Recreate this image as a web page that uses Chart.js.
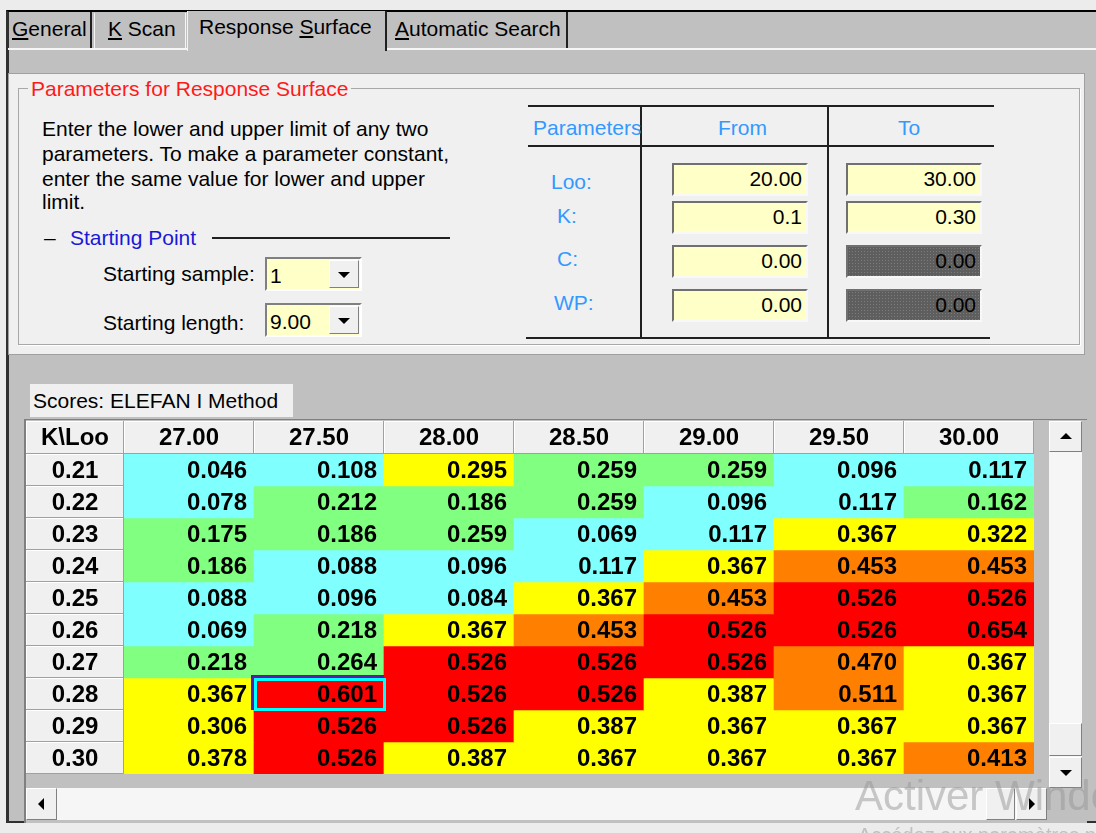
<!DOCTYPE html>
<html>
<head>
<meta charset="utf-8">
<title>Response Surface</title>
<script src="https://cdn.jsdelivr.net/npm/chart.js@4.4.1/dist/chart.umd.min.js"></script>
<style>
    body { margin: 0; width: 1096px; height: 833px; overflow: hidden; position: relative; background: #ececec;
           font-family: 'Liberation Sans', Arial, sans-serif; font-size: 21px; color: #000; }
    .abs { position: absolute; white-space: nowrap; line-height: 21px; }
    #frame { position: absolute; left: 6px; top: 10px; width: 1100px; height: 813px; box-sizing: border-box;
             background: #c0c0c0; border-left: 3px solid #303030; border-top: 2px solid #000; border-bottom: 2px solid #303030; }
    .tab { position: absolute; background: #c0c0c0; box-sizing: border-box; }
    .panel { position: absolute; left: 8px; top: 73px; width: 1077px; height: 282px; background: #f0f0f0;
             box-sizing: border-box; border: 1px solid #a0a0a0; }
    .group { position: absolute; left: 18px; top: 88px; width: 1062px; height: 257px; box-sizing: border-box;
             border: 1px solid #a8a8a8; box-shadow: 1px 1px 0 #fff; }
    .rule { position: absolute; background: #202020; }
    .blue { color: #3399ff; }
    .combo { position: absolute; left: 265px; width: 97px; height: 34px; box-sizing: border-box; background: #ffffc8;
             border: 2px solid; border-color: #808080 #ffffff #ffffff #808080; }
    .combo span { position: absolute; left: 3px; top: 6px; line-height: 21px; }
    .drop { position: absolute; right: 1px; top: 1px; width: 30px; height: 28px; box-sizing: border-box; background: #f0f0f0;
            border: 1px solid; border-color: #ffffff #808080 #808080 #ffffff; }
    .down { position: absolute; width: 0; height: 0; border-left: 6px solid transparent; border-right: 6px solid transparent; border-top: 6px solid #000; }
    .up { position: absolute; width: 0; height: 0; border-left: 6px solid transparent; border-right: 6px solid transparent; border-bottom: 6px solid #000; }
    .left { position: absolute; width: 0; height: 0; border-top: 6px solid transparent; border-bottom: 6px solid transparent; border-right: 6px solid #000; }
    .right { position: absolute; width: 0; height: 0; border-top: 6px solid transparent; border-bottom: 6px solid transparent; border-left: 6px solid #000; }
    .field { position: absolute; width: 136px; height: 33px; box-sizing: border-box; background: #ffffc8; text-align: right;
             padding-right: 4px; line-height: 28px; border: 2px solid; border-color: #707070 #f8f8f8 #f8f8f8 #707070; }
    .field.off { background-color: #5e5e5e; background-image: radial-gradient(#7c7c7c 0.7px, transparent 0.9px); background-size: 3px 3px; }
    .btn { position: absolute; box-sizing: border-box; background: #f0f0f0; border: 1px solid; border-color: #ffffff #808080 #808080 #ffffff; }
    .track { position: absolute; background: #f6f6f6; }
    #scoreChart { position: absolute; left: 24px; top: 420px; }
    .mark { position: absolute; color: rgba(150, 150, 150, 0.5); white-space: nowrap; pointer-events: none; }
</style>
</head>
<body>
<div id="frame"></div>

<!-- tab strip -->
<div class="abs" style="left:8px; top:48px; width:1090px; height:2px; background:#f6f6f6;"></div>
<div class="tab" style="left:9px; top:12px; width:83px; height:36px; border-right:2px solid #202020;"></div>
<div class="tab" style="left:94px; top:13px; width:92px; height:35px; border-left:1px solid #f4f4f4; border-right:1px solid #f4f4f4;"></div>
<div class="tab" style="left:187px; top:11px; width:200px; height:40px; border-left:1px solid #f4f4f4; border-right:2px solid #202020;"></div>
<div class="tab" style="left:389px; top:12px; width:179px; height:36px; border-right:2px solid #202020;"></div>
<div class="abs" style="left:12px; top:18px;"><u>G</u>eneral</div>
<div class="abs" style="left:108px; top:18px;"><u>K</u> Scan</div>
<div class="abs" style="left:199px; top:16px;">Response <u>S</u>urface</div>
<div class="abs" style="left:395px; top:18px;"><u>A</u>utomatic Search</div>

<!-- parameters group -->
<div class="panel"></div>
<div class="group"></div>
<div class="abs" style="left:28px; top:78px; padding:0 3px; background:#f0f0f0; color:#ff1a1a;">Parameters for Response Surface</div>
<div class="abs" style="left:42px; top:118px;">Enter the lower and upper limit of any two</div>
<div class="abs" style="left:42px; top:143px;">parameters. To make a parameter constant,</div>
<div class="abs" style="left:42px; top:168px;">enter the same value for lower and upper</div>
<div class="abs" style="left:42px; top:191px;">limit.</div>

<div class="abs" style="left:44px; top:227px;">–</div>
<div class="abs" style="left:70px; top:227px; color:#1818d8;">Starting Point</div>
<div class="rule" style="left:212px; top:237px; width:238px; height:2px;"></div>

<div class="abs" style="left:103px; top:263px;">Starting sample:</div>
<div class="combo" style="top:257px;"><span>1</span><div class="drop"><div class="down" style="left:8px; top:11px;"></div></div></div>
<div class="abs" style="left:103px; top:312px;">Starting length:</div>
<div class="combo" style="top:303px;"><span>9.00</span><div class="drop"><div class="down" style="left:8px; top:11px;"></div></div></div>

<div class="rule" style="left:528px; top:105px; width:466px; height:2px;"></div>
<div class="rule" style="left:528px; top:145px; width:466px; height:2px;"></div>
<div class="rule" style="left:526px; top:337px; width:464px; height:2px;"></div>
<div class="rule" style="left:640px; top:105px; width:2px; height:234px;"></div>
<div class="rule" style="left:827px; top:105px; width:2px; height:234px;"></div>
<div class="abs blue" style="left:533px; top:117px;">Parameters</div>
<div class="abs blue" style="left:718px; top:117px;">From</div>
<div class="abs blue" style="left:898px; top:117px;">To</div>
<div class="abs blue" style="left:551px; top:171px;">Loo:</div>
<div class="abs blue" style="left:557px; top:205px;">K:</div>
<div class="abs blue" style="left:557px; top:248px;">C:</div>
<div class="abs blue" style="left:554px; top:292px;">WP:</div>
<div class="field" style="left:672px; top:163px;">20.00</div>
<div class="field" style="left:846px; top:163px;">30.00</div>
<div class="field" style="left:672px; top:201px;">0.1</div>
<div class="field" style="left:846px; top:201px;">0.30</div>
<div class="field" style="left:672px; top:245px;">0.00</div>
<div class="field off" style="left:846px; top:245px;">0.00</div>
<div class="field" style="left:672px; top:289px;">0.00</div>
<div class="field off" style="left:846px; top:289px;">0.00</div>

<!-- score grid -->
<div class="abs" style="left:30px; top:384px; width:263px; height:33px; background:#f0f0f0;"></div>
<div class="abs" style="left:33px; top:390px;">Scores: ELEFAN I Method</div>
<div class="abs" style="left:24px; top:419px; width:1063px; height:404px; box-sizing:border-box; background:#c0c0c0;
     border-left:2px solid #808080; border-top:1px solid #808080;"></div>
<canvas id="scoreChart" width="1010" height="354"></canvas>

<!-- scrollbars -->
<div class="track" style="left:1049px; top:421px; width:33px; height:367px;"></div>
<div class="btn" style="left:1049px; top:421px; width:33px; height:31px;"><div class="up" style="left:10px; top:11px;"></div></div>
<div class="btn" style="left:1049px; top:723px; width:33px; height:33px;"></div>
<div class="btn" style="left:1049px; top:757px; width:33px; height:31px;"><div class="down" style="left:10px; top:12px;"></div></div>
<div class="track" style="left:26px; top:788px; width:1021px; height:32px;"></div>
<div class="btn" style="left:26px; top:788px; width:31px; height:32px;"><div class="left" style="left:11px; top:9px;"></div></div>
<div class="btn" style="left:986px; top:788px; width:29px; height:32px;"></div>
<div class="btn" style="left:1016px; top:788px; width:31px; height:32px;"><div class="right" style="left:12px; top:9px;"></div></div>

<div class="mark" style="left:855px; top:772px; font-size:42px;">Activer Windows</div>
<div class="mark" style="left:858px; top:824px; font-size:20px;">Accédez aux paramètres pour activer Windows.</div>

<script>
const looLabels = ['27.00', '27.50', '28.00', '28.50', '29.00', '29.50', '30.00'];
const kLabels = ['0.21', '0.22', '0.23', '0.24', '0.25', '0.26', '0.27', '0.28', '0.29', '0.30'];
const cornerLabel = 'K\\Loo';

// ELEFAN I scores, one array per K row, columns follow looLabels
const scoresK021 = [0.046, 0.108, 0.295, 0.259, 0.259, 0.096, 0.117];
const scoresK022 = [0.078, 0.212, 0.186, 0.259, 0.096, 0.117, 0.162];
const scoresK023 = [0.175, 0.186, 0.259, 0.069, 0.117, 0.367, 0.322];
const scoresK024 = [0.186, 0.088, 0.096, 0.117, 0.367, 0.453, 0.453];
const scoresK025 = [0.088, 0.096, 0.084, 0.367, 0.453, 0.526, 0.526];
const scoresK026 = [0.069, 0.218, 0.367, 0.453, 0.526, 0.526, 0.654];
const scoresK027 = [0.218, 0.264, 0.526, 0.526, 0.526, 0.470, 0.367];
const scoresK028 = [0.367, 0.601, 0.526, 0.526, 0.387, 0.511, 0.367];
const scoresK029 = [0.306, 0.526, 0.526, 0.387, 0.367, 0.367, 0.367];
const scoresK030 = [0.378, 0.526, 0.387, 0.367, 0.367, 0.367, 0.413];

const scoreRows = [scoresK021, scoresK022, scoresK023, scoresK024, scoresK025,
                   scoresK026, scoresK027, scoresK028, scoresK029, scoresK030];

const selectedK = '0.28';
const selectedLoo = '27.50';

const levelLimits = [0.15, 0.29, 0.41, 0.52];
const levelColors = ['#80ffff', '#80ff80', '#ffff00', '#ff8000', '#ff0000'];
const cellFont = 'bold 24px "Liberation Sans", Arial, sans-serif';

function scoreColor(v) {
    let i = 0;
    while (i < levelLimits.length && v >= levelLimits[i]) i++;
    return levelColors[i];
}

function headerCell(ctx, x, y, w, h) {
    ctx.fillStyle = '#f0f0f0';
    ctx.fillRect(x, y, w, h);
    ctx.fillStyle = '#ffffff';
    ctx.fillRect(x, y, w, 1);
    ctx.fillRect(x, y, 1, h);
    ctx.fillStyle = '#a0a0a0';
    ctx.fillRect(x + w - 1, y, 1, h);
    ctx.fillRect(x, y + h - 1, w, 1);
}

const tablePlugin = {
    id: 'scoreTable',
    beforeDatasetsDraw(chart) {
        const { ctx, scales: { x, y } } = chart;
        const colW = x.width / looLabels.length;
        ctx.save();
        headerCell(ctx, y.left + 2, x.top + 1, y.width - 2, x.height - 1);
        looLabels.forEach((lab, i) => {
            headerCell(ctx, x.getPixelForValue(i) - colW / 2, x.top + 1, colW, x.height - 1);
        });
        kLabels.forEach((lab, r) => {
            const top = y.getPixelForValue(r);
            const bottom = y.getPixelForValue(r + 1);
            headerCell(ctx, y.left + 2, top, y.width - 2, bottom - top);
        });
        ctx.restore();
    },
    afterDatasetsDraw(chart) {
        const { ctx, scales: { x, y } } = chart;
        ctx.save();
        ctx.font = cellFont;
        ctx.fillStyle = '#000';
        ctx.textBaseline = 'middle';

        // headers
        ctx.textAlign = 'center';
        const headMid = (x.top + x.bottom) / 2 + 1;
        const rowMid = (y.left + 2 + y.right) / 2;
        ctx.fillText(cornerLabel, rowMid, headMid);
        looLabels.forEach((lab, i) => ctx.fillText(lab, x.getPixelForValue(i), headMid));
        kLabels.forEach((lab, r) => {
            ctx.fillText(lab, rowMid, (y.getPixelForValue(r) + y.getPixelForValue(r + 1)) / 2 + 1);
        });

        // score values, right aligned in their cells
        ctx.textAlign = 'right';
        chart.data.datasets.forEach((ds, r) => {
            chart.getDatasetMeta(r).data.forEach((bar, c) => {
                const p = bar.getProps(['x', 'y', 'base', 'width'], true);
                ctx.fillText(ds.scores[c].toFixed(3), p.x + p.width / 2 - 7, (p.y + p.base) / 2 + 1);
            });
        });

        // selected cell
        const r = kLabels.indexOf(selectedK);
        const c = looLabels.indexOf(selectedLoo);
        const sel = chart.getDatasetMeta(r).data[c].getProps(['x', 'y', 'base', 'width'], true);
        const left = sel.x - sel.width / 2;
        const top = Math.min(sel.y, sel.base);
        const h = Math.abs(sel.base - sel.y);
        ctx.fillStyle = '#5a1aa8';
        ctx.fillRect(left - 3, top - 3, sel.width + 3, 3);
        ctx.fillRect(left - 3, top - 3, 3, h + 3);
        ctx.strokeStyle = '#00ffff';
        ctx.lineWidth = 3;
        ctx.strokeRect(left + 1.5, top + 1.5, sel.width - 1, h - 2);
        ctx.restore();
    }
};

function renderScores() {
    const ctx = document.getElementById('scoreChart').getContext('2d');

    return new Chart(ctx, {
        type: 'bar',
        data: {
            labels: looLabels,
            datasets: scoreRows.map((row, r) => ({
                label: kLabels[r],
                data: row.map(() => [r, r + 1]),
                scores: row,
                backgroundColor: row.map(scoreColor),
                borderWidth: 0,
                barPercentage: 1,
                categoryPercentage: 1,
                grouped: false
            }))
        },
        options: {
            responsive: false,
            animation: false,
            layout: { padding: 0 },
            plugins: {
                legend: { display: false },
                tooltip: { enabled: false }
            },
            scales: {
                x: {
                    position: 'top',
                    grid: { display: false },
                    border: { display: false },
                    ticks: { display: false },
                    afterFit: scale => { scale.height = 34; }
                },
                y: {
                    min: 0,
                    max: kLabels.length,
                    reverse: true,
                    grid: { display: false },
                    border: { display: false },
                    ticks: { display: false },
                    afterFit: scale => { scale.width = 100; }
                }
            }
        },
        plugins: [tablePlugin]
    });
}

document.addEventListener('DOMContentLoaded', function() {
    renderScores();
});
</script>
</body>
</html>
